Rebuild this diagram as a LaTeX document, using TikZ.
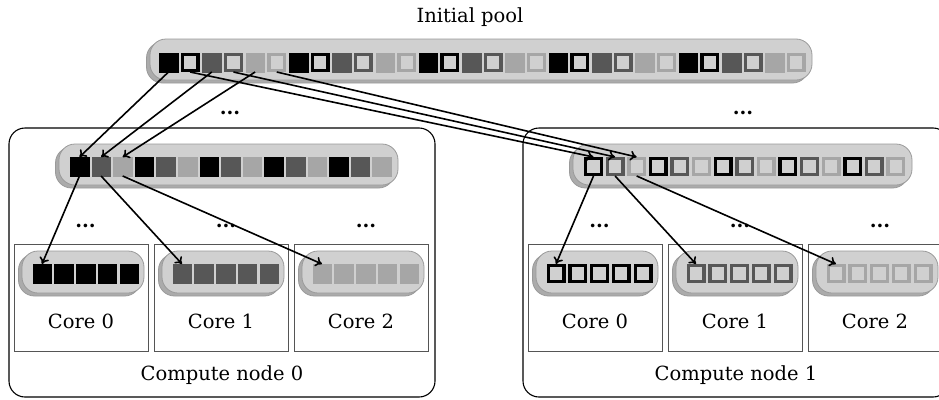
\documentclass[tikz,border=0pt]{standalone}
\usepackage{fontspec}
\setmainfont{DejaVu Serif}
\usetikzlibrary{arrows.meta,shadows}

\definecolor{barfill}{HTML}{D0D0D0}
\definecolor{barline}{HTML}{9A9A9A}
\definecolor{barshadow}{HTML}{ABABAB}
\definecolor{tokdark}{HTML}{575757}
\definecolor{toklight}{HTML}{A6A6A6}
\definecolor{framegray}{HTML}{555555}

\tikzset{
  pool/.style={draw=barline, fill=barfill, line width=0.8pt, rounded corners=16pt,
    inner sep=0pt,
    drop shadow={shadow xshift=-3.5pt, shadow yshift=-3pt, fill=barshadow,
      draw=barline, opacity=1}},
  tok/.style n args={3}{draw=#1, fill=#2, line width=#3pt,
    minimum size={(19-#3)*1pt}, inner sep=0pt},
  computebox/.style={draw=black, line width=1.1pt, rounded corners=16pt,
    inner sep=0pt, minimum width=426pt, minimum height=269pt},
  corebox/.style={draw=framegray, line width=0.8pt, inner sep=0pt,
    minimum width=134pt, minimum height=107pt},
  txt/.style={font=\fontsize{19.5}{23}\selectfont, inner sep=0pt},
  dotsnode/.style={font=\fontsize{19.5}{23}\selectfont\bfseries, inner sep=0pt, anchor=base},
  arr/.style={line width=1.6pt, -{To[length=6.5pt,width=10pt]}},
}

\begin{document}
\begin{tikzpicture}[x=1pt,y=-1pt]
\useasboundingbox (0,0) rectangle (939,399);
\clip (0,0) rectangle (939,399);

% initial pool
\node[txt] (title) at (470,17) {Initial pool};
\node[pool, minimum width=662pt, minimum height=41pt] (top) at (481,59.5) {};
\foreach \g in {0,...,4}
  \foreach \j/\col/\fc/\lw in {0/black/black/0.4, 1/black/barfill/3.4,
      2/tokdark/tokdark/0.4, 3/tokdark/barfill/3.4,
      4/toklight/toklight/0.4, 5/toklight/barfill/3.4} {
    \pgfmathtruncatemacro\n{6*\g+\j}
    \node[tok={\col}{\fc}{\lw}] (t\n) at (168.5+21.65*\n,62.5) {};
  }
\node[dotsnode] (dtop0) at (230,114.5) {...};
\node[dotsnode] (dtop1) at (743,114.5) {...};

% compute nodes
\foreach \m/\off/\lw in {0/0/0.4, 1/514/3.4} {
  \node[computebox] (cn\m) at (222+\off,262.5) {};
  \node[txt] (cnlbl\m) at (222+\off,375) {Compute node \m};
  \node[pool, minimum width=339pt, minimum height=41pt] (mid\m) at (228.5+\off,164.5) {};
  \foreach \g in {0,...,4}
    \foreach \j/\col in {0/black,1/tokdark,2/toklight} {
      \pgfmathtruncatemacro\i{3*\g+\j}
      \ifnum\m=0 \def\fc{\col}\else\def\fc{barfill}\fi
      \node[tok={\col}{\fc}{\lw}] (s\m-\i) at (79.5+\off+21.6*\i,166.5) {};
    }
  \foreach \d/\dx in {0/85.5,1/226,2/366}
    \node[dotsnode] (dm\m-\d) at (\dx+\off,227.5) {...};
  \foreach \c/\col in {0/black,1/tokdark,2/toklight} {
    \node[corebox] (cb\m-\c) at (81+140*\c+\off,297.5) {};
    \node[txt] (cl\m-\c) at (81+140*\c+\off,321) {Core \c};
    \node[pool, minimum width=122pt, minimum height=42pt] (cp\m-\c) at (83+140*\c+\off,272) {};
    \ifnum\m=0 \def\fc{\col}\else\def\fc{barfill}\fi
    \foreach \i in {0,...,4}
      \node[tok={\col}{\fc}{\lw}] (k\m-\c-\i) at (42+140*\c+\off+21.75*\i,273.5) {};
  }
}

% distribution from the initial pool to the compute nodes
\draw[arr] (t0.south) -- (s0-0.north);
\draw[arr] (t2.south) -- (s0-1.north);
\draw[arr] (t4.south) -- (s0-2.north);
\draw[arr] (t1.south) -- (s1-0.north);
\draw[arr] (t3.south) -- (s1-1.north);
\draw[arr] (t5.south) -- (s1-2.north);

% distribution from each compute node to its cores
\foreach \m in {0,1}
  \foreach \c in {0,1,2}
    \draw[arr] (s\m-\c.south) -- (k\m-\c-0.north);
\end{tikzpicture}
\end{document}
